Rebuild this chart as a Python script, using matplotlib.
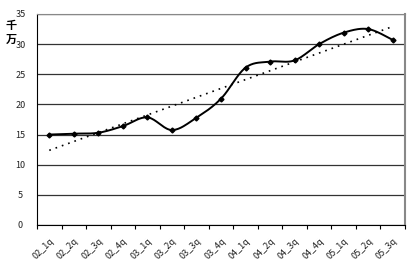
import numpy as np
import matplotlib
matplotlib.use('Agg')
import matplotlib.pyplot as plt

plt.rcParams['font.family'] = ['Noto Sans CJK SC', 'DejaVu Sans']

quarters = ['02_1q', '02_2q', '02_3q', '02_4q', '03_1q', '03_2q', '03_3q', '03_4q',
            '04_1q', '04_2q', '04_3q', '04_4q', '05_1q', '05_2q', '05_3q']
values = [15.0, 15.15, 15.3, 16.4, 17.85, 15.75, 17.8, 20.95,
          26.1, 27.1, 27.3, 30.0, 31.9, 32.5, 30.7]


def smooth(x, y, n=20):
    # Catmull-Rom style smoothing like Excel's "smoothed line"
    x = np.asarray(x, float)
    y = np.asarray(y, float)
    px = np.concatenate([[x[0]], x, [x[-1]]])
    py = np.concatenate([[y[0]], y, [y[-1]]])
    xs, ys = [], []
    t = np.linspace(0, 1, n)
    for i in range(1, len(px) - 2):
        p0, p1, p2, p3 = (np.array([px[j], py[j]]) for j in range(i - 1, i + 3))
        c1 = p1 + (p2 - p0) / 6
        c2 = p2 - (p3 - p1) / 6
        pts = ((1 - t) ** 3)[:, None] * p1 + (3 * (1 - t) ** 2 * t)[:, None] * c1 \
            + (3 * (1 - t) * t ** 2)[:, None] * c2 + (t ** 3)[:, None] * p2
        xs.extend(pts[:, 0])
        ys.extend(pts[:, 1])
    return np.array(xs), np.array(ys)


x = np.arange(len(quarters))
fig = plt.figure(figsize=(4.13, 2.69), dpi=100)
ax = fig.add_axes([0.0896, 0.1636, 0.891, 0.7844])

sx, sy = smooth(x, values)
ax.plot(sx, sy, color='black', lw=1.4, zorder=3)
ax.plot(x, values, linestyle='none', marker='D', ms=2.5, color='black', zorder=4)

# linear trend line
k, b = np.polyfit(x, values, 1)
ax.plot(x, k * x + b, color='black', lw=1.2, linestyle=(0, (1, 3)), zorder=2)

ax.set_xlim(-0.5, len(quarters) - 0.5)
ax.set_ylim(0, 35)
ax.set_yticks(range(0, 36, 5))
ax.yaxis.grid(True, color='#333333', lw=0.9)
ax.set_axisbelow(True)

ax.set_xticks(np.arange(-0.5, len(quarters) - 0.4, 1), minor=False)
ax.set_xticklabels([])
ax.set_xticks(x, minor=True)
ax.set_xticklabels(quarters, minor=True, rotation=45, ha='right', va='top',
                   rotation_mode='anchor', fontsize=6.5, color='#222222')
ax.tick_params(axis='x', which='minor', length=0, pad=8)
ax.tick_params(axis='x', which='major', direction='out', length=3, width=0.8)
ax.tick_params(axis='y', length=0, labelsize=6.5, labelcolor='#222222', pad=12)
for lab in ax.get_yticklabels():
    lab.set_horizontalalignment('center')

ax.spines['left'].set_color('black')
ax.spines['bottom'].set_color('black')
ax.spines['top'].set_color('#888888')
ax.spines['right'].set_color('#888888')
ax.spines['right'].set_linewidth(1.5)

fig.text(0.027, 0.93, '千\n万', fontsize=8, fontweight='bold', va='top',
         ha='center', linespacing=1.1)

fig.savefig('out.png', dpi=100)
